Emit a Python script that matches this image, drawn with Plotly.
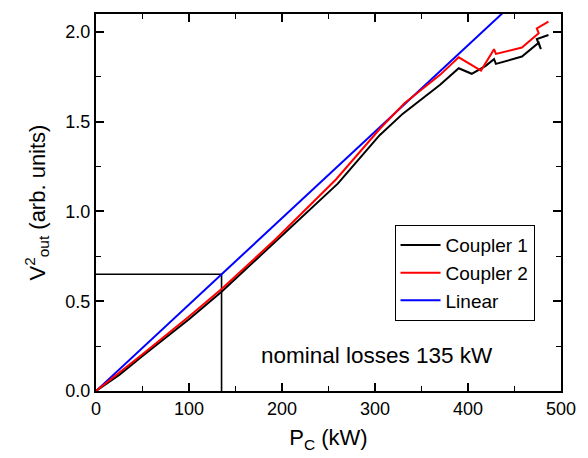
import plotly.graph_objects as go

# Data
c1_x = [0, 25, 50, 100, 135, 195, 260, 305, 330, 370, 390, 404, 419, 428, 430, 458, 476, 478.4, 474, 486.5]
c1_y = [0, 0.09, 0.195, 0.40, 0.553, 0.84, 1.155, 1.425, 1.545, 1.706, 1.798, 1.767, 1.811, 1.848, 1.822, 1.863, 1.94, 1.905, 1.96, 1.983]
c2_x = [0, 25, 50, 100, 135, 193, 258, 306, 332, 370, 390, 414, 428, 430, 444, 458, 476, 474, 486.5]
c2_y = [0, 0.10, 0.205, 0.415, 0.568, 0.845, 1.178, 1.465, 1.604, 1.761, 1.859, 1.785, 1.904, 1.878, 1.896, 1.913, 1.993, 2.02, 2.057]
nominal_loss = 135
nominal_v2 = 0.65
lin_x = [0, 500]
lin_y = [x * nominal_v2 / nominal_loss for x in lin_x]
guide_x = [0, nominal_loss, nominal_loss]
guide_y = [nominal_v2, nominal_v2, 0]

font = "Liberation Sans, Arial, sans-serif"

fig = go.Figure()
fig.add_trace(go.Scatter(x=guide_x, y=guide_y, mode="lines", line=dict(color="black", width=1.6), showlegend=False, hoverinfo="skip"))
fig.add_trace(go.Scatter(x=lin_x, y=lin_y, mode="lines", name="Linear", line=dict(color="#0000ff", width=2), legendrank=3))
fig.add_trace(go.Scatter(x=c1_x, y=c1_y, mode="lines", name="Coupler 1", line=dict(color="black", width=2), legendrank=1))
fig.add_trace(go.Scatter(x=c2_x, y=c2_y, mode="lines", name="Coupler 2", line=dict(color="#ff0000", width=2), legendrank=2))

axis_common = dict(
    showgrid=False, zeroline=False, showline=True, linecolor="black", linewidth=2,
    mirror="allticks", ticks="inside", ticklen=8, tickwidth=1.5, tickcolor="black",
    tickfont=dict(family=font, size=18, color="black"),
)

fig.update_xaxes(range=[0, 500], dtick=100, tick0=0,
                 minor=dict(dtick=50, ticks="inside", ticklen=5, tickcolor="black", tickwidth=1.2),
                 title=dict(text="P<sub>C</sub> (kW)", font=dict(family=font, size=22, color="black"), standoff=12),
                 **axis_common)
fig.update_yaxes(range=[0, 2.1], dtick=0.5, tick0=0, tickformat=".1f",
                 minor=dict(dtick=0.25, ticks="inside", ticklen=5, tickcolor="black", tickwidth=1.2),
                 title=dict(text="V<sup>2</sup><sub>out</sub> (arb. units)", font=dict(family=font, size=22, color="black"), standoff=14),
                 **axis_common)

fig.add_annotation(x=302, y=0.195, xref="x", yref="y", text="nominal losses 135 kW",
                   showarrow=False, font=dict(family=font, size=22.5, color="black"))

fig.update_layout(
    width=588, height=458,
    margin=dict(l=96, r=23, t=14, b=66),
    paper_bgcolor="white", plot_bgcolor="white",
    legend=dict(x=0.642, y=0.44, xanchor="left", yanchor="top",
                bordercolor="black", borderwidth=1, bgcolor="white",
                font=dict(family=font, size=19, color="black"),
                tracegroupgap=0, itemwidth=40),
    showlegend=True,
)

fig.write_html("out.html")
